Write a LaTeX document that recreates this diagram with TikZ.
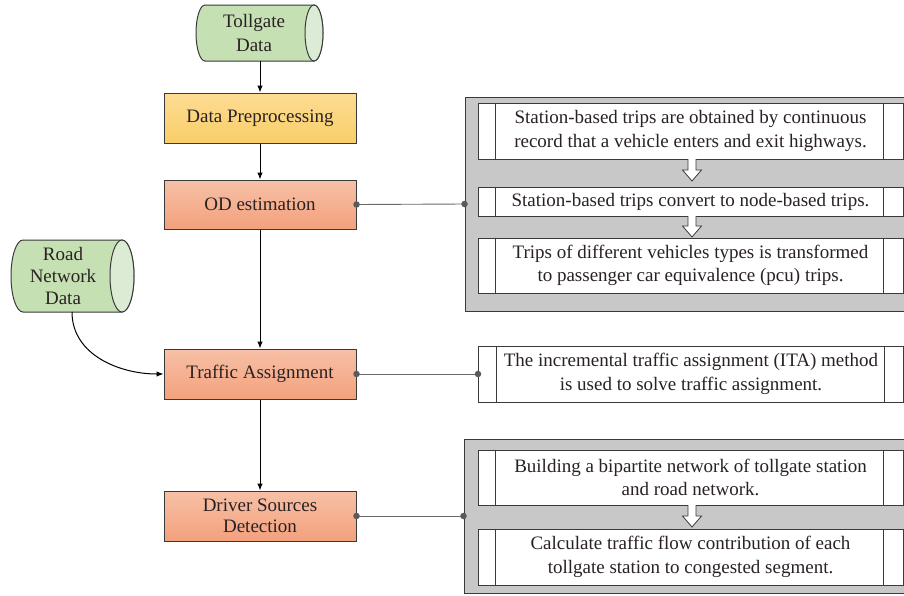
\documentclass[tikz,border=0pt]{standalone}
\usepackage{fontspec}
\setmainfont{Liberation Serif}
\usetikzlibrary{arrows.meta}
\definecolor{bordc}{HTML}{3A3A3A}
\definecolor{txtc}{HTML}{2A2222}
\definecolor{greenbody}{HTML}{C5E0B3}
\definecolor{greencap}{HTML}{DCEBD3}
\definecolor{yeltop}{HTML}{FDDC93}
\definecolor{yelbot}{HTML}{F9CE69}
\definecolor{ortop}{HTML}{F7C0A6}
\definecolor{orbot}{HTML}{F3A17D}
\definecolor{panelgray}{HTML}{C8C8C8}
\definecolor{linkgray}{HTML}{6A6A6A}
\newcommand{\hollowarr}[4]{% x, ytop, yhead, ytip
  \filldraw[draw=bordc, fill=white, line width=0.8pt, line join=miter]
    (#1-4,#2) -- (#1-4,#3) -- (#1-9.5,#3) -- (#1,#4) -- (#1+9.5,#3) -- (#1+4,#3) -- (#1+4,#2);}
\begin{document}
\begin{tikzpicture}[x=1pt,y=-1pt,
  font=\fontsize{19}{23.5}\selectfont, text=txtc,
  stepbox/.style={draw=bordc, line width=1pt, align=center, minimum width=192pt, minimum height=50pt, inner sep=2pt},
  yelbox/.style={stepbox, top color=yeltop, bottom color=yelbot},
  orbox/.style={stepbox, top color=ortop, bottom color=orbot},
  panelbox/.style={draw=bordc, line width=1pt, fill=panelgray, minimum width=446pt},
  procbox/.style={draw=bordc, line width=1pt, fill=white, align=center, minimum width=425pt, inner sep=0pt},
  arr/.style={draw=black, line width=1pt, -{Latex[length=7pt,width=5.5pt]}},
  link/.style={draw=linkgray, line width=0.9pt},
  dot/.style={circle, fill=linkgray!85!black, inner sep=0pt, minimum size=6.5pt},
  cyl/.style={draw=bordc, line width=1pt}
]
\useasboundingbox (0,0) rectangle (904,595);
\clip (0,0) rectangle (904,595);

% Tollgate cylinder
\filldraw[cyl, fill=greenbody] (205,5) -- (314,5) arc[start angle=90,end angle=-90,x radius=9pt,y radius=28pt]
   -- (205,61) arc[start angle=270,end angle=90,x radius=9pt,y radius=28pt] -- cycle;
\filldraw[cyl, fill=greencap] (314,33) ellipse[x radius=9pt,y radius=28pt];
\node[align=center, inner sep=0pt] (toll) at (254,33) {Tollgate\\Data};
\coordinate (tollbot) at (260,61);

% Road network cylinder
\filldraw[cyl, fill=greenbody] (23,240) -- (122,240) arc[start angle=90,end angle=-90,x radius=12pt,y radius=36pt]
   -- (23,312) arc[start angle=270,end angle=90,x radius=12pt,y radius=36pt] -- cycle;
\filldraw[cyl, fill=greencap] (122,276) ellipse[x radius=12pt,y radius=36pt];
\node[align=center, inner sep=0pt, font=\fontsize{19}{22}\selectfont] (road) at (63,276) {Road\\Network\\Data};
\coordinate (roadbot) at (72,312);

% Main flow boxes
\node[yelbox] (dp) at (260,118) {Data Preprocessing};
\node[orbox, minimum height=49pt] (od) at (260,204.5) {OD estimation};
\node[orbox] (ta) at (260,374) {Traffic Assignment};
\node[orbox, font=\fontsize{19}{21.5}\selectfont] (dsd) at (260,516) {Driver Sources\\Detection};

\draw[arr] (tollbot) -- (dp.north);
\draw[arr] (dp.south) -- (od.north);
\draw[arr] (od.south) -- (ta.north);
\draw[arr] (ta.south) -- (dsd.north);
\draw[arr] (roadbot) to[out=-90,in=180] (ta.west);

% Panel 1
\node[panelbox, minimum height=214pt] (p1) at (688,204) {};
\node[procbox, minimum height=56pt] (b1) at (690.5,131) {Station-based trips are obtained by continuous\\record that a vehicle enters and exit highways.};
\node[procbox, minimum height=29pt] (b2) at (690.5,201.5) {Station-based trips convert to node-based trips.};
\node[procbox, minimum height=55pt] (b3) at (690.5,265.5) {Trips of different vehicles types is transformed\\to passenger car equivalence (pcu) trips.};

% ITA box
\node[procbox, minimum height=56pt] (b4) at (691,374) {The incremental traffic assignment (ITA) method\\is used to solve traffic assignment.};

% Panel 3
\node[panelbox, minimum height=154pt] (p3) at (687,516) {};
\node[procbox, minimum height=55pt] (b5) at (690.5,477.5) {Building a bipartite network of tollgate station\\and road network.};
\node[procbox, minimum height=56pt] (b6) at (690.5,557) {Calculate traffic flow contribution of each\\tollgate station to congested segment.};

% Double side bars of the process boxes
\foreach \b in {b1,b2,b3,b4,b5,b6}{
  \draw[draw=bordc, line width=1pt] ([xshift=18pt]\b.north west) -- ([xshift=18pt]\b.south west);
  \draw[draw=bordc, line width=1pt] ([xshift=-20pt]\b.north east) -- ([xshift=-20pt]\b.south east);
}

% Hollow arrows
\hollowarr{692}{159}{170}{181}
\hollowarr{692}{216}{226}{237}
\hollowarr{692}{505}{516}{527}

% Side links
\draw[link] (od.east) -- (p1.west);
\node[dot] (d1) at (od.east) {};
\node[dot] (d2) at (p1.west) {};
\draw[link] (ta.east) -- (b4.west);
\node[dot] (d3) at (ta.east) {};
\node[dot] (d4) at (b4.west) {};
\draw[link] (dsd.east) -- (p3.west);
\node[dot] (d5) at (dsd.east) {};
\node[dot] (d6) at (p3.west) {};
\end{tikzpicture}
\end{document}
